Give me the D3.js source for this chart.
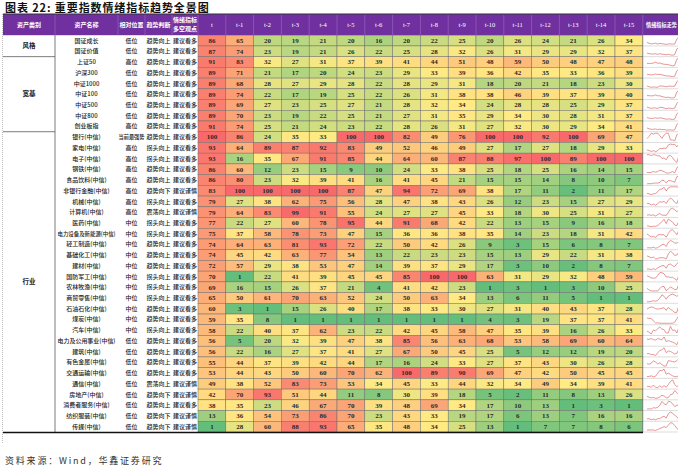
<!DOCTYPE html>
<html><head><meta charset="utf-8">
<script src="https://cdn.jsdelivr.net/npm/d3@7"></script>
<style>body{margin:0;background:#fff;overflow:hidden}</style>
</head><body>
<svg id="c" width="678" height="469"></svg>
<script>
const groups = ['风格','宽基','行业'];
const groupSizes = [2,7,28];
const assetNames = ['国证成长','国证价值','上证50','沪深300','中证1000','中证100','中证500','中证800','创业板指',
 '银行(中信)','家电(中信)','电子(中信)','钢铁(中信)','食品饮料(中信)','非银行金融(中信)','机械(中信)','计算机(中信)',
 '医药(中信)','电力设备及新能源(中信)','轻工制造(中信)','基础化工(中信)','建材(中信)','国防军工(中信)','农林牧渔(中信)',
 '商贸零售(中信)','石油石化(中信)','煤炭(中信)','汽车(中信)','电力及公用事业(中信)','建筑(中信)','有色金属(中信)',
 '交通运输(中信)','通信(中信)','房地产(中信)','消费者服务(中信)','纺织服装(中信)','传媒(中信)'];
const positions = ['低位','低位','高位','低位','低位','低位','低位','低位','高位',
 '当前最强势','高位','高位','高位','高位','高位','高位','高位',
 '中位','中位','中位','中位','中位','中位','中位','中位','中位','中位','中位',
 '低位','低位','低位','低位','低位','低位','低位','低位','低位'];
const trends = ['趋势向上','趋势向上','趋势向上','趋势向上','趋势向上','趋势向上','趋势向上','趋势向上','趋势向上',
 '趋势向上','拐头向上','拐头向上','趋势向上','趋势向上','趋势向下','拐头向上','震荡向上',
 '拐头向上','拐头向上','趋势向上','趋势向上','趋势向上','拐头向上','拐头向上','拐头向上','趋势向上','趋势向上','拐头向上',
 '趋势向上','趋势向上','趋势向上','趋势向上','震荡向上','趋势向下','趋势向上','趋势向下','趋势向下'];
const views = ['建议看多','建议看多','建议看多','建议看多','建议看多','建议看多','建议看多','建议看多','建议看多',
 '建议看多','建议看多','建议看多','建议看多','建议看多','建议谨慎','建议看多','建议谨慎',
 '建议看多','建议看多','建议看多','建议看多','建议看多','建议看多','建议看多','建议看多','建议看多','建议看多','建议看多',
 '建议看多','建议看多','建议看多','建议看多','建议谨慎','建议谨慎','建议看多','建议谨慎','建议谨慎'];
const periods = ['t','t-1','t-2','t-3','t-4','t-5','t-6','t-7','t-8','t-9','t-10','t-11','t-12','t-13','t-14','t-15'];
const values = [
 [86,65,20,19,21,20,16,20,22,25,20,26,24,21,26,34],
 [87,74,23,19,21,26,22,25,28,32,26,31,29,29,32,37],
 [91,83,32,27,31,37,39,41,44,51,48,59,50,48,47,48],
 [89,71,21,17,20,24,23,29,33,39,36,42,35,33,36,39],
 [89,68,28,27,29,28,22,28,29,31,18,20,21,18,23,30],
 [89,74,22,17,19,25,22,26,31,38,38,46,39,37,39,40],
 [89,69,27,23,25,27,21,28,32,34,24,28,28,25,29,37],
 [89,70,23,19,22,25,21,27,31,35,29,34,30,28,31,37],
 [91,74,25,21,24,23,22,28,26,31,27,32,30,29,34,41],
 [100,86,24,35,33,100,100,82,49,76,100,100,92,100,69,47],
 [93,64,89,87,92,83,49,52,46,49,27,17,27,18,29,33],
 [93,16,35,67,91,85,44,64,60,87,88,97,100,89,100,100],
 [86,60,12,23,15,9,10,24,33,38,25,18,25,16,14,15],
 [86,80,23,32,39,41,16,41,45,21,15,15,14,8,10,7],
 [83,100,100,100,100,87,47,94,72,69,38,17,11,2,11,17],
 [79,27,38,62,75,56,28,47,38,43,26,12,23,15,27,29],
 [79,64,83,99,91,55,24,27,27,45,33,18,30,25,31,27],
 [77,22,27,60,78,95,44,91,68,42,22,13,15,9,16,18],
 [75,37,58,78,73,47,15,36,36,38,35,14,23,18,31,42],
 [74,64,63,81,93,72,22,50,42,26,9,3,15,6,8,7],
 [74,45,42,63,77,54,13,22,23,23,15,13,29,22,31,38],
 [72,57,29,38,53,47,14,39,37,29,17,3,10,2,8,7],
 [70,1,22,41,39,45,45,85,100,100,63,31,29,32,48,59],
 [69,16,15,26,37,21,4,41,42,23,1,3,1,3,10,25],
 [65,50,61,70,63,52,24,50,63,34,13,6,11,5,1,1],
 [60,3,1,15,26,40,17,38,33,30,27,31,40,43,37,28],
 [59,35,8,1,1,1,1,1,1,1,4,3,19,37,37,41],
 [58,22,40,37,62,23,22,42,45,58,47,35,39,16,26,33],
 [56,5,20,32,39,47,38,85,56,63,68,53,58,69,60,64],
 [56,22,16,27,37,41,27,67,50,45,25,5,12,12,19,20],
 [55,44,37,39,42,44,17,16,24,33,27,37,43,30,26,28],
 [53,44,43,50,60,70,62,100,89,90,69,47,42,50,45,45],
 [49,38,52,83,73,53,34,45,33,44,32,34,49,34,39,41],
 [42,70,93,51,44,11,8,30,39,18,5,2,11,8,13,26],
 [38,35,23,46,67,70,39,48,69,34,17,10,13,1,3,1],
 [13,36,54,73,86,70,23,43,33,19,17,6,13,7,16,16],
 [1,28,60,88,93,65,35,48,34,25,13,1,7,7,8,6]
];
const headers = ['资产类别','资产名称','相对位置','趋势判断'];

const svg = d3.select('#c');
const cjk = "'Noto Sans CJK SC','Noto Sans',sans-serif";
const serif = "'Liberation Serif','DejaVu Serif',serif";
const topY = 14, headH = 21.2, bottomY = 432;
const x = d3.scaleBand().domain(periods).range([198, 642.8]);
const y = d3.scaleBand().domain(d3.range(assetNames.length)).range([topY+headH, bottomY]);
const all = values.flat();
const color = d3.scaleLinear().domain([d3.min(all), d3.median(all), d3.max(all)])
  .range(['#63BE7B','#FFEB84','#F8696B']);

// title
svg.append('text').attr('x',5).attr('y',11.5).attr('font-family',cjk).attr('font-weight',700)
  .attr('font-size',11).attr('letter-spacing',0.9).attr('fill','#111').text('图表 22: 重要指数情绪指标趋势全景图');

// left dashed border
svg.append('line').attr('x1',2.5).attr('x2',2.5).attr('y1',topY).attr('y2',444)
  .attr('stroke','#aaa').attr('stroke-dasharray','1,1').attr('stroke-width',0.8);

// header
svg.append('rect').attr('x',3).attr('y',topY).attr('width',680).attr('height',headH).attr('fill','#7030A0');
svg.append('line').attr('x1',3).attr('x2',678).attr('y1',topY).attr('y2',topY).attr('stroke','#333').attr('stroke-width',1);
const hx = [29,86.5,131.5,158.5];
headers.forEach((h,i)=>{
  svg.append('text').attr('x',hx[i]).attr('y',topY+headH/2+2.2).attr('text-anchor','middle')
   .attr('font-family',cjk).attr('font-weight',700).attr('font-size',6).attr('fill','#fff').text(h);
});
svg.append('text').attr('x',185).attr('y',topY+8).attr('text-anchor','middle').attr('font-family',cjk)
  .attr('font-weight',700).attr('font-size',6).attr('fill','#fff').text('情绪指标');
svg.append('text').attr('x',185).attr('y',topY+17).attr('text-anchor','middle').attr('font-family',cjk)
  .attr('font-weight',700).attr('font-size',6).attr('fill','#fff').text('多空观点');
svg.selectAll('.ph').data(periods).join('text')
  .attr('x',d=>x(d)+x.bandwidth()/2).attr('y',topY+headH/2+2.2).attr('text-anchor','middle')
  .attr('font-family',serif).attr('font-size',6.5).attr('fill','#fff').text(d=>d);
svg.append('text').attr('x',646).attr('y',topY+headH/2+2.2).attr('font-family',cjk).attr('font-weight',700)
  .attr('font-size',5.3).attr('textLength',31).attr('lengthAdjust','spacingAndGlyphs').attr('fill','#fff').text('情绪指标走势');
[55,118,145,172,198].concat(periods.map(p=>x(p)+x.bandwidth())).forEach(v=>{
  svg.append('line').attr('x1',v).attr('x2',v).attr('y1',topY+1).attr('y2',topY+headH)
   .attr('stroke','#9b6cc0').attr('stroke-width',0.6);
});

// group column
let start = 0;
groups.forEach((g,i)=>{
  const y0 = y(start), y1 = y(start+groupSizes[i]-1)+y.bandwidth();
  svg.append('text').attr('x',29).attr('y',(y0+y1)/2+2.3).attr('text-anchor','middle')
    .attr('font-family',cjk).attr('font-weight',700).attr('font-size',6.5).attr('fill','#222').text(g);
  if(i<groups.length-1) svg.append('line').attr('x1',3).attr('x2',55).attr('y1',y1).attr('y2',y1)
    .attr('stroke','#444').attr('stroke-width',0.7);
  start += groupSizes[i];
});
svg.append('line').attr('x1',55).attr('x2',55).attr('y1',topY+headH).attr('y2',bottomY).attr('stroke','#444').attr('stroke-width',0.7);

// text columns
const rows = svg.selectAll('.row').data(assetNames).join('g').attr('transform',(d,i)=>`translate(0,${y(i)+y.bandwidth()/2+2.1})`);
const txt = (sel,xx,fn,lenFn)=>sel.append('text').attr('x',xx).attr('text-anchor','middle')
  .attr('font-family',cjk).attr('font-weight',500).attr('font-size',6).attr('fill','#222').text(fn)
  .each(function(d,i){ const L = lenFn ? lenFn(d,i) : null; if(L){ d3.select(this).attr('textLength',L).attr('lengthAdjust','spacingAndGlyphs'); } });
txt(rows,86.5,d=>d,(d)=> d.length>10 ? 58 : null);
txt(rows,131.5,(d,i)=>positions[i],(d,i)=>positions[i].length>3 ? 26 : null);
txt(rows,158.5,(d,i)=>trends[i]);
txt(rows,185,(d,i)=>views[i]);

// heat cells
values.forEach((row,i)=>{
  const g = svg.append('g');
  g.selectAll('rect').data(row).join('rect')
    .attr('x',(d,j)=>x(periods[j])).attr('y',y(i)).attr('width',x.bandwidth()).attr('height',y.bandwidth())
    .attr('fill',d=>color(d)).attr('stroke','#6e6e6e').attr('stroke-width',0.5);
  g.selectAll('text').data(row).join('text')
    .attr('x',(d,j)=>x(periods[j])+x.bandwidth()/2).attr('y',y(i)+y.bandwidth()/2+2.4)
    .attr('text-anchor','middle').attr('font-family',serif).attr('font-weight',700)
    .attr('font-size',7).attr('fill','#2a2a2a').text(d=>d);
});

// trend column
const sx = d3.scaleLinear().domain([15,0]).range([647,679]);
values.forEach((row,i)=>{
  svg.append('line').attr('x1',642.8).attr('x2',678).attr('y1',y(i)+y.bandwidth()).attr('y2',y(i)+y.bandwidth())
    .attr('stroke','#bbb').attr('stroke-width',0.5);
  const sy = d3.scaleLinear().domain(d3.extent(row)).range([y(i)+y.bandwidth()-1.5, y(i)+1.5]);
  const line = d3.line().x((d,j)=>sx(j)).y(d=>sy(d));
  svg.append('path').attr('d',line(row)).attr('fill','none').attr('stroke','#e07a7a').attr('stroke-width',0.8);
});
svg.append('line').attr('x1',642.8).attr('x2',642.8).attr('y1',topY+headH).attr('y2',bottomY).attr('stroke','#6e6e6e').attr('stroke-width',0.5);

// bottom line
svg.append('line').attr('x1',3).attr('x2',643).attr('y1',bottomY+0.5).attr('y2',bottomY+0.5).attr('stroke','#111').attr('stroke-width',1.3);

// source
svg.append('text').attr('x',5).attr('y',464).attr('font-family',cjk).attr('font-size',9)
  .attr('letter-spacing',1.8).attr('fill','#333').text('资料来源：Wind，华鑫证券研究');
</script>
</body></html>
